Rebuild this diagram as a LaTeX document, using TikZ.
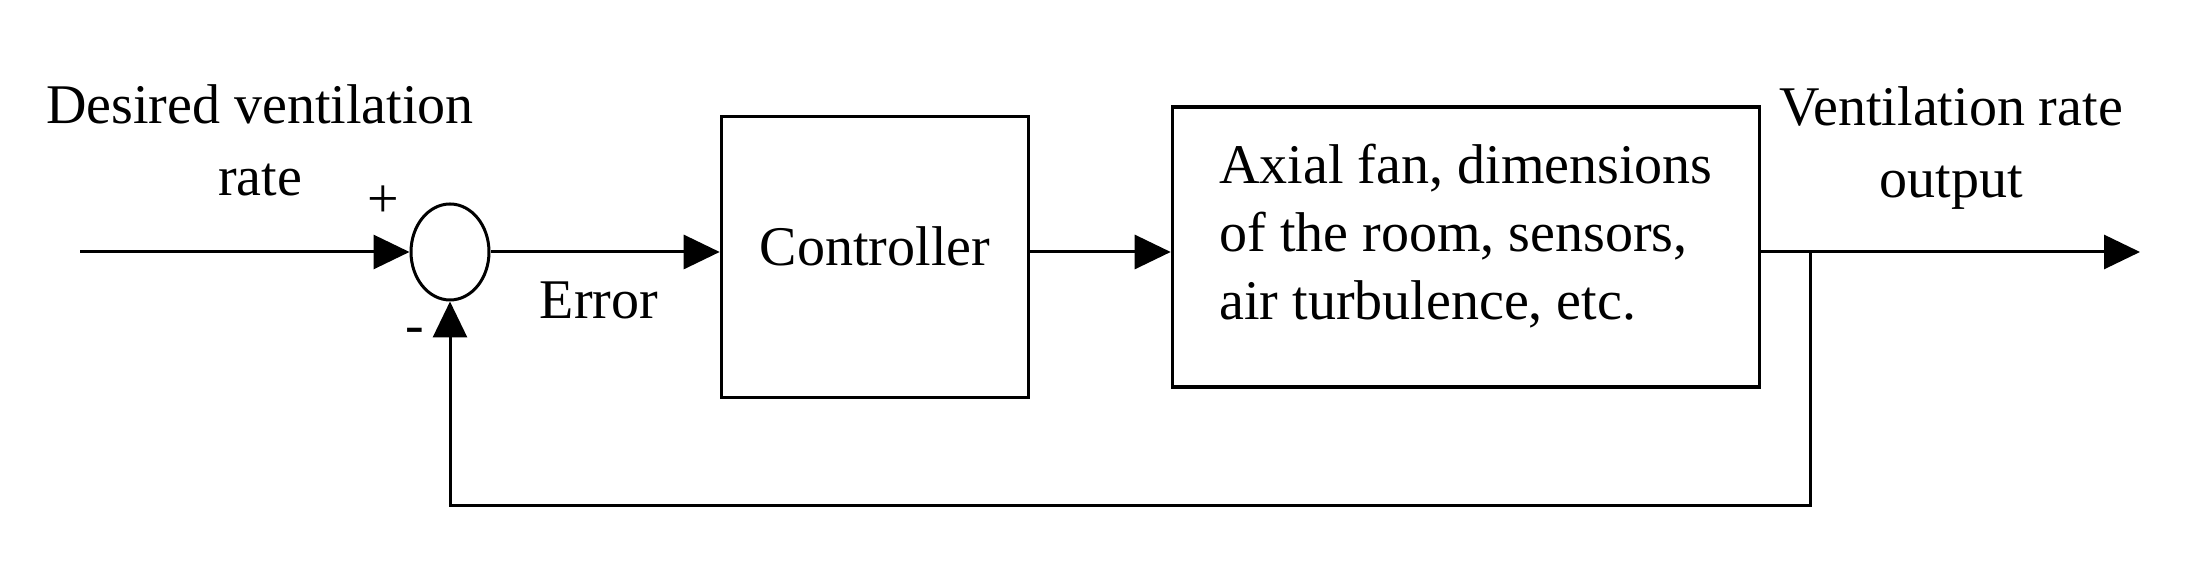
\documentclass[tikz,border=0pt]{standalone}
\usepackage{fontspec}
\setmainfont{Liberation Serif}
\usetikzlibrary{shapes}
\usetikzlibrary{positioning}
\usetikzlibrary{arrows.meta}

\begin{document}
\begin{tikzpicture}[x=0.25pt,y=-0.25pt,
            >={Triangle[length=9pt,width=8.5pt]},
            line width=0.75pt,
            font=\fontsize{14}{18}\selectfont,
            block/.style = {draw,line width=0.9pt,align=center,inner sep=0pt},
            sumnode/.style = {draw,ellipse,minimum width=19.5pt,
                minimum height=24pt,inner sep=0pt},
            lbl/.style = {align=center,inner sep=0pt}]
            \useasboundingbox (0,0) rectangle (2205,563);
            % blocks
            \node[block,minimum width=76.75pt,minimum height=70.25pt,
                text depth=5.5pt](ctrl) at (875,257) {Controller};
            \node[block,minimum width=146.75pt,minimum height=70pt,
                align=left,text depth=7.5pt,
                font=\fontsize{14}{17}\selectfont](plant)
                at (1466,247) {Axial fan, dimensions\\of the room, sensors,\\air turbulence, etc.};
            \node[sumnode](sum) at (450,252) {};
            % texts
            \node[lbl](desired) at (260,140) {Desired ventilation\\rate};
            \node[lbl](vrate) at (1951,148) {Ventilation rate\\output};
            \node[lbl](err) at (599,300) {Error};
            \node[lbl](plus) at (383,202) {+};
            \node[lbl](minus) at (415,336) {-};
            % loose ends
            \coordinate (in) at (80,252);
            \coordinate (junc) at (1810,252);
            \coordinate (out) at (2140,252);
            \coordinate (fb) at (1810,506);
            \draw[->] (in) -- (sum.west);
            \draw[->] (sum.east) -- (sum.east -| ctrl.west);
            \draw[->] (ctrl.east |- sum) -- (plant.west |- sum);
            \draw[->] (plant.east |- sum) -- (out);
            \draw[->] (junc) -- (fb) -| (sum.south);
        \end{tikzpicture}
\end{document}
